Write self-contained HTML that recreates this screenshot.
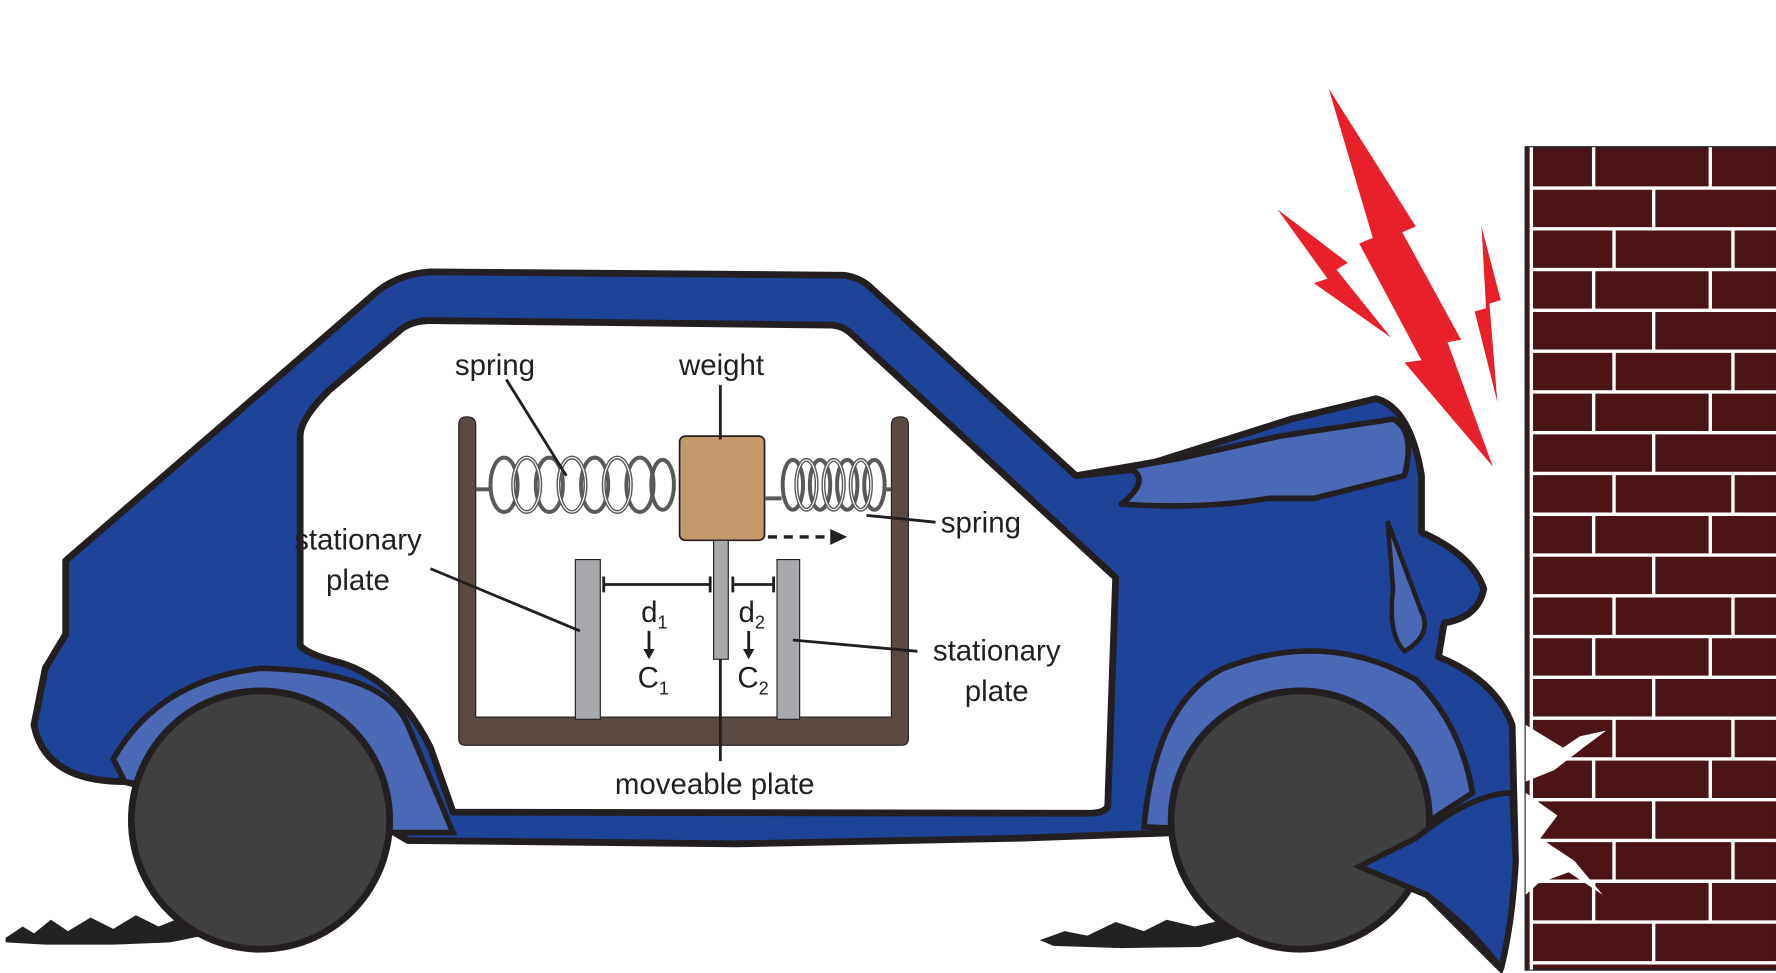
<!DOCTYPE html>
<html><head><style>html,body{margin:0;padding:0;background:#fff;overflow:hidden}svg{display:block}</style></head>
<body>
<svg width="1776" height="973" viewBox="0 0 1568 859" preserveAspectRatio="none" xmlns="http://www.w3.org/2000/svg" font-family="Liberation Sans, sans-serif">
<rect width="1568" height="859" fill="#fff"/>
<g>
<rect x="1347" y="130" width="221" height="726" fill="#4b1416" stroke="#222" stroke-width="2"/>
<g stroke="#fff" stroke-width="3">
<line x1="1352" y1="166" x2="1568" y2="166"/><line x1="1352" y1="202" x2="1568" y2="202"/><line x1="1352" y1="238" x2="1568" y2="238"/><line x1="1352" y1="274" x2="1568" y2="274"/><line x1="1352" y1="310" x2="1568" y2="310"/><line x1="1352" y1="346" x2="1568" y2="346"/><line x1="1352" y1="382" x2="1568" y2="382"/><line x1="1352" y1="418" x2="1568" y2="418"/><line x1="1352" y1="454" x2="1568" y2="454"/><line x1="1352" y1="490" x2="1568" y2="490"/><line x1="1352" y1="526" x2="1568" y2="526"/><line x1="1352" y1="562" x2="1568" y2="562"/><line x1="1352" y1="598" x2="1568" y2="598"/><line x1="1352" y1="634" x2="1568" y2="634"/><line x1="1352" y1="670" x2="1568" y2="670"/><line x1="1352" y1="706" x2="1568" y2="706"/><line x1="1352" y1="742" x2="1568" y2="742"/><line x1="1352" y1="778" x2="1568" y2="778"/><line x1="1352" y1="814" x2="1568" y2="814"/><line x1="1352" y1="850" x2="1568" y2="850"/>
<line x1="1352" y1="130" x2="1352" y2="856"/>
</g>
<g stroke="#fff" stroke-width="3">
<path d="M1407 130v36M1510 130v36M1460 166v36M1425 202v36M1530 202v36M1407 238v36M1510 238v36M1460 274v36M1425 310v36M1530 310v36M1407 346v36M1510 346v36M1460 382v36M1425 418v36M1530 418v36M1407 454v36M1510 454v36M1460 490v36M1425 526v36M1530 526v36M1407 562v36M1510 562v36M1460 598v36M1425 634v36M1530 634v36M1407 670v36M1510 670v36M1460 706v36M1425 742v36M1530 742v36M1407 778v36M1510 778v36M1460 814v36"/>
</g>
<path d="M1347 640 L1380 660 L1395 650 L1418 645 L1398 660 L1372 680 L1347 690Z" fill="#fff"/>
<path d="M1347 700 L1375 720 L1360 740 L1390 760 L1415 790 L1385 770 L1358 780 L1347 790Z" fill="#fff"/>
</g>
<path d="M1173 78 L1250 200 L1238 205 L1290 300 L1278 302 L1318 412 L1240 320 L1255 318 L1200 215 L1212 210Z" fill="#e8202a"/>
<path d="M1128 185 L1190 232 L1180 238 L1228 298 L1160 250 L1172 246Z" fill="#e8202a"/>
<path d="M1308 200 L1325 265 L1315 268 L1322 355 L1302 275 L1312 272Z" fill="#e8202a"/>
<path d="M5 828 L20 818 L30 824 L45 812 L60 822 L80 810 L100 820 L120 808 L140 818 L160 810 L185 825 L150 832 L100 834 L40 834 L5 832Z" fill="#222"/>
<path d="M918 830 L940 822 L960 826 L985 814 L1010 822 L1030 812 L1055 818 L1080 812 L1098 826 L1060 836 L990 837 L930 835Z" fill="#222"/>
<path d="M58 495 L330 260 Q350 242 380 240 L745 243 Q760 245 770 255 L950 420 L1020 408 L1140 370 L1215 352 Q1245 360 1255 420 L1255 470 Q1300 490 1310 520 Q1305 545 1275 550 L1270 580 Q1320 600 1335 640 L1338 760 Q1335 815 1325 855 Q1300 830 1260 790 L1200 765 L1230 740 L1160 730 L1040 735 L900 740 L650 745 L360 742 L340 730 L230 720 L110 690 Q40 690 30 640 L40 590 L58 560Z" fill="#1f4399" stroke="#231f20" stroke-width="6" stroke-linejoin="round"/>
<path d="M100 670 Q140 600 230 590 Q340 592 360 640 L400 735 L340 735 L230 715 L110 690Z" fill="#4a68b5" stroke="#231f20" stroke-width="5"/>
<path d="M1010 730 Q1020 620 1080 590 Q1170 555 1250 600 Q1290 640 1300 700 L1200 765 L1130 735Z" fill="#4a68b5" stroke="#231f20" stroke-width="5"/>
<path d="M955 420 L1000 415 Q1015 425 990 445 Q1060 450 1120 440 L1160 440 L1240 420 Q1250 380 1230 370 L1130 385 L1040 405Z" fill="#4a68b5" stroke="#231f20" stroke-width="5" stroke-linejoin="round"/>
<path d="M1225 460 Q1240 500 1255 540 Q1265 560 1240 575 Q1225 560 1230 520Z" fill="#4a68b5" stroke="#231f20" stroke-width="4"/>
<path d="M265 385 Q265 370 290 345 L355 290 Q365 283 380 283 L735 287 Q745 288 752 295 L985 510 L978 712 Q975 718 960 718 L400 717 L380 660 Q350 600 300 585 Q272 578 265 570Z" fill="#fff" stroke="#231f20" stroke-width="6" stroke-linejoin="round"/>
<circle cx="230" cy="724" r="114" fill="#404040" stroke="#231f20" stroke-width="6"/>
<circle cx="1148" cy="724" r="114" fill="#404040" stroke="#231f20" stroke-width="6"/>
<path d="M1200 765 L1250 740 Q1300 700 1335 700 L1338 760 Q1335 815 1325 855 Q1300 820 1260 790Z" fill="#1f4399" stroke="#231f20" stroke-width="5"/>
<path d="M405 375 Q405 368 412 368 Q420 368 420 375 L420 633 L787 633 L787 375 Q787 368 795 368 Q802 368 802 375 L802 652 Q802 658 796 658 L411 658 Q405 658 405 652Z" fill="#5b4a42" stroke="#231f20" stroke-width="1"/>
<g fill="none" stroke="#58595b" stroke-width="3.5">
<path d="M420 432 L433 432"/>
<ellipse cx="445" cy="428" rx="12" ry="24"/><ellipse cx="465" cy="428" rx="12" ry="24"/><ellipse cx="485" cy="428" rx="12" ry="24"/><ellipse cx="505" cy="428" rx="12" ry="24"/><ellipse cx="525" cy="428" rx="12" ry="24"/><ellipse cx="545" cy="428" rx="12" ry="24"/><ellipse cx="565" cy="428" rx="12" ry="24"/><ellipse cx="585" cy="428" rx="10" ry="22"/>
<ellipse cx="700" cy="428" rx="9" ry="22"/><ellipse cx="712" cy="428" rx="9" ry="22"/><ellipse cx="724" cy="428" rx="9" ry="22"/><ellipse cx="736" cy="428" rx="9" ry="22"/><ellipse cx="748" cy="428" rx="9" ry="22"/><ellipse cx="760" cy="428" rx="9" ry="22"/><ellipse cx="772" cy="428" rx="9" ry="22"/><path d="M676 440 L690 440 M780 432 L787 432"/>
</g>
<g fill="none" stroke="#fff" stroke-width="1">
<ellipse cx="465" cy="428" rx="12" ry="24"/><ellipse cx="505" cy="428" rx="12" ry="24"/><ellipse cx="545" cy="428" rx="12" ry="24"/><ellipse cx="712" cy="428" rx="9" ry="22"/><ellipse cx="736" cy="428" rx="9" ry="22"/><ellipse cx="760" cy="428" rx="9" ry="22"/>
</g>
<rect x="600" y="385" width="75" height="92" rx="5" fill="#c49a6c" stroke="#231f20" stroke-width="1.5"/>
<rect x="508" y="494" width="22" height="141" fill="#a7a9ac" stroke="#231f20" stroke-width="1"/>
<rect x="686" y="494" width="20" height="141" fill="#a7a9ac" stroke="#231f20" stroke-width="1"/>
<rect x="630" y="477" width="13" height="105" fill="#a7a9ac" stroke="#231f20" stroke-width="1"/>
<path d="M678 474 L733 474" stroke="#231f20" stroke-width="3" stroke-dasharray="8 6"/>
<path d="M733 467 L748 474 L733 481Z" fill="#231f20"/>
<g stroke="#231f20" stroke-width="2.5" fill="none">
<path d="M533 516 L627 516 M533 509 L533 523 M627 509 L627 523"/>
<path d="M647 516 L683 516 M647 509 L647 523 M683 509 L683 523"/>
<path d="M573 557 L573 575 M661 557 L661 575"/>
<path d="M447 335 L500 420"/>
<path d="M636 340 L636 388"/>
<path d="M765 455 L826 461"/>
<path d="M380 502 L512 557"/>
<path d="M700 565 L810 575"/>
<path d="M636 582 L636 672"/>
</g>
<path d="M568 573 L573 582 L578 573Z M656 573 L661 582 L666 573Z" fill="#231f20"/>
<g font-size="26" fill="#231f20">
<text x="437" y="331" text-anchor="middle">spring</text>
<text x="637" y="331" text-anchor="middle">weight</text>
<text x="866" y="470" text-anchor="middle">spring</text>
<text x="316" y="485" text-anchor="middle">stationary</text>
<text x="316" y="521" text-anchor="middle">plate</text>
<text x="880" y="583" text-anchor="middle">stationary</text>
<text x="880" y="619" text-anchor="middle">plate</text>
<text x="631" y="701" text-anchor="middle">moveable plate</text>
<text x="566" y="549">d<tspan font-size="16" dy="6">1</tspan></text>
<text x="652" y="549">d<tspan font-size="16" dy="6">2</tspan></text>
<text x="563" y="607">C<tspan font-size="16" dy="6">1</tspan></text>
<text x="651" y="607">C<tspan font-size="16" dy="6">2</tspan></text>
</g>
</svg>
</body></html>
